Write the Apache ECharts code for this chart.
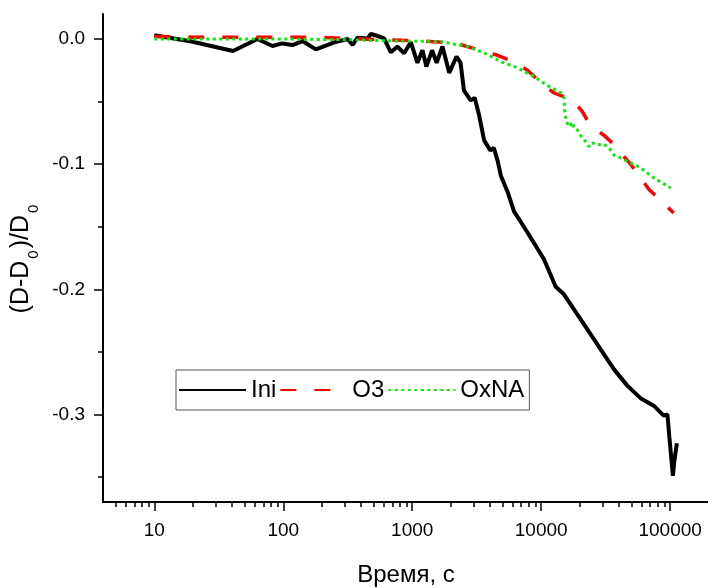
<!DOCTYPE html>
<html>
<head>
<meta charset="utf-8">
<script src="https://cdn.jsdelivr.net/npm/echarts@6/dist/echarts.min.js"></script>
<style>
  html, body { margin: 0; padding: 0; background: #fff; }
  #chart { width: 708px; height: 588px; }
</style>
</head>
<body>
<div id="chart"></div>
<script>
// Ini
var iniT = [10, 19.4, 40.8, 63, 82.5, 98, 118, 141, 179, 249, 316, 345, 375, 451, 477, 535, 604, 682, 769, 864, 975, 1097, 1200, 1287, 1425, 1545, 1715, 1935, 2205, 2370, 2515, 2835, 3050, 3300, 3610, 4030, 4290, 4610, 4860, 5480, 6160, 6930, 7870, 8790, 10500, 12950, 15000, 17950, 22800, 28900, 36700, 46500, 58900, 74600, 89100, 95200, 98500, 105000, 107500, 112700];
var iniV = [0.003, -0.002, -0.0096, 0, -0.0056, -0.0035, -0.0048, -0.0016, -0.0083, -0.0027, 0, -0.0048, 0.001, 0.0005, 0.004, 0.0026, 0.0005, -0.0106, -0.006, -0.0114, -0.0025, -0.019, -0.009, -0.022, -0.009, -0.019, -0.006, -0.027, -0.014, -0.019, -0.041, -0.049, -0.047, -0.061, -0.081, -0.089, -0.087, -0.098, -0.109, -0.122, -0.138, -0.146, -0.155, -0.163, -0.176, -0.198, -0.204, -0.216, -0.232, -0.248, -0.264, -0.277, -0.287, -0.293, -0.301, -0.300, -0.318, -0.349, -0.338, -0.323];
// O3
var o3T = [10, 20, 50, 100, 200, 410, 820, 1097, 2110, 3000, 4580, 6340, 7820, 10500, 12550, 15000, 17950, 20850, 22800, 25650, 30700, 35600, 41250, 49300, 68300, 106500];
var o3V = [0.002, 0.0015, 0.0015, 0.0015, 0.0012, 0.0, -0.001, -0.0015, -0.003, -0.0075, -0.013, -0.019, -0.025, -0.037, -0.043, -0.046, -0.05, -0.058, -0.065, -0.071, -0.077, -0.083, -0.091, -0.1, -0.12, -0.139];
// OxNA
var oxT = [10, 30, 100, 300, 820, 1640, 2690, 3610, 4860, 6530, 8790, 11150, 14160, 15030, 15210, 15680, 16440, 17460, 17960, 19090, 19640, 20850, 22120, 23490, 24940, 27290, 30700, 33570, 36650, 41300, 46560, 49430, 59040, 74850, 100900];
var oxV = [0, 0, 0, -0.0005, -0.0016, -0.002, -0.006, -0.011, -0.018, -0.023, -0.03, -0.037, -0.043, -0.047, -0.057, -0.066, -0.070, -0.0665, -0.071, -0.0726, -0.075, -0.079, -0.082, -0.086, -0.083, -0.0846, -0.084, -0.087, -0.0926, -0.095, -0.098, -0.099, -0.103, -0.111, -0.119];

var xMajor = [10, 100, 1000, 10000, 100000];
var xMinor = [5, 6, 7, 8, 9, 20, 30, 40, 50, 60, 70, 80, 90, 200, 300, 400, 500, 600, 700, 800, 900,
  2000, 3000, 4000, 5000, 6000, 7000, 8000, 9000, 20000, 30000, 40000, 50000, 60000, 70000, 80000, 90000];
var yMajor = [0, -0.1, -0.2, -0.3];
var yMinor = [-0.05, -0.15, -0.25, -0.35];

function pairs(t, v) {
  var out = [];
  for (var i = 0; i < t.length; i++) out.push([t[i], v[i]]);
  return out;
}

var font = '"Liberation Sans", Arial, sans-serif';
var myChart = echarts.init(document.getElementById('chart'));

var option = {
  animation: false,
  textStyle: { fontFamily: font },
  grid: { left: 103, right: -1, top: 14, bottom: 86, outerBoundsMode: 'none', containLabel: false },
  legend: {
    data: ['Ini', 'O3', 'OxNA'],
    left: 176,
    top: 370,
    orient: 'horizontal',
    itemWidth: 67,
    itemHeight: 14,
    itemGap: 3,
    padding: [8, 5, 8, 2],
    borderColor: '#555',
    borderWidth: 1,
    itemStyle: { opacity: 0 },
    textStyle: { fontSize: 24, color: '#000', fontFamily: font }
  },
  xAxis: [
    {
      type: 'log',
      logBase: 10,
      min: 4,
      max: 200000,
      name: 'Время, с',
      nameLocation: 'middle',
      nameGap: 61,
      nameTextStyle: { fontSize: 24, color: '#000', fontFamily: font },
      axisLine: { show: true, onZero: false, lineStyle: { color: '#000', width: 2 } },
      axisTick: { show: true, inside: false, length: 9, customValues: xMajor, lineStyle: { color: '#000', width: 1.5 } },
      axisLabel: {
        customValues: xMajor,
        fontSize: 19,
        color: '#000',
        margin: 19,
        fontFamily: font,
        formatter: function (v) { return String(Math.round(v)); }
      },
      splitLine: { show: false }
    },
    {
      type: 'log',
      logBase: 10,
      min: 4,
      max: 200000,
      position: 'bottom',
      axisLine: { show: false, onZero: false },
      axisTick: { show: true, inside: false, length: 5, customValues: xMinor, lineStyle: { color: '#000', width: 1.5 } },
      axisLabel: { show: false },
      splitLine: { show: false }
    }
  ],
  yAxis: [
    {
      type: 'value',
      min: -0.37,
      max: 0.02,
      position: 'left',
      name: '(D-D{sub|0})/D{sub|0}',
      nameLocation: 'middle',
      nameGap: 56,
      nameRotate: 90,
      nameTextStyle: {
        fontSize: 25,
        color: '#000',
        fontFamily: font,
        lineHeight: 40,
        rich: {
          sub: { fontSize: 15, color: '#000', fontFamily: font, verticalAlign: 'bottom', lineHeight: 15, padding: [0, 2, 0, 2] }
        }
      },
      axisLine: { show: true, onZero: false, lineStyle: { color: '#000', width: 2 } },
      axisTick: { show: true, inside: false, length: 9, customValues: yMajor, lineStyle: { color: '#000', width: 1.5 } },
      axisLabel: {
        customValues: yMajor,
        fontSize: 19,
        color: '#000',
        margin: 18,
        fontFamily: font,
        formatter: function (v) { return v.toFixed(1); }
      },
      splitLine: { show: false }
    },
    {
      type: 'value',
      min: -0.37,
      max: 0.02,
      position: 'left',
      axisLine: { show: false, onZero: false },
      axisTick: { show: true, inside: false, length: 5, customValues: yMinor, lineStyle: { color: '#000', width: 1.5 } },
      axisLabel: { show: false },
      splitLine: { show: false }
    }
  ],
  series: [
    {
      name: 'Ini',
      type: 'line',
      showSymbol: false,
      symbol: 'none',
      itemStyle: { color: '#000' },
      lineStyle: { color: '#000', width: 4 },
      data: pairs(iniT, iniV)
    },
    {
      name: 'O3',
      type: 'line',
      showSymbol: false,
      symbol: 'none',
      itemStyle: { color: '#ff0000' },
      lineStyle: { color: '#ff0000', width: 3.5, type: [16, 18] },
      data: pairs(o3T, o3V)
    },
    {
      name: 'OxNA',
      type: 'line',
      showSymbol: false,
      symbol: 'none',
      itemStyle: { color: '#00ee00' },
      lineStyle: { color: '#00ee00', width: 3, type: [3, 3.5] },
      data: pairs(oxT, oxV)
    }
  ]
};

myChart.setOption(option);
window.addEventListener("resize", function() {
  myChart.resize();
});
</script>
</body>
</html>
